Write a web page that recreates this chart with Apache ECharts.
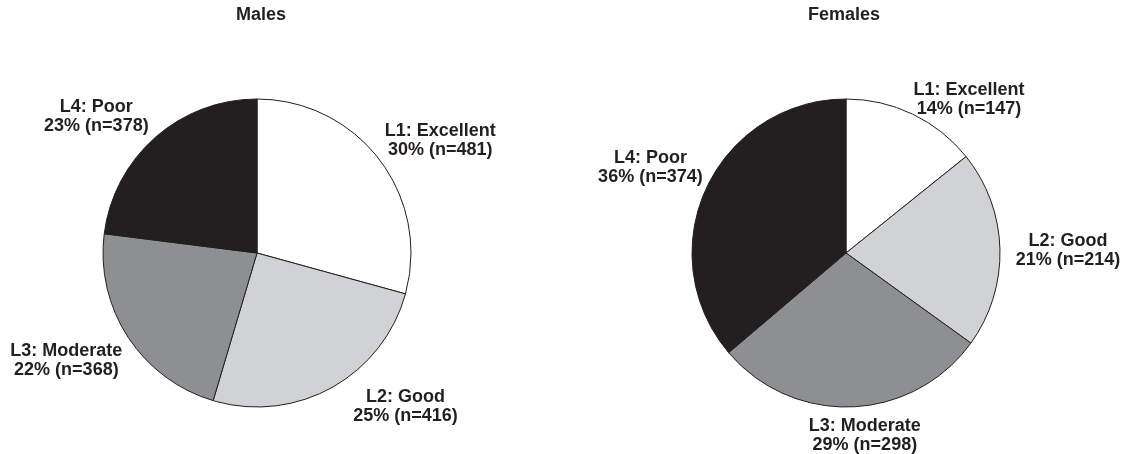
<!DOCTYPE html>
<html>
<head>
<meta charset="utf-8">
<script src="https://cdn.jsdelivr.net/npm/echarts@6/dist/echarts.min.js"></script>
<style>
html,body{margin:0;padding:0;background:#fff;}
#chart{width:1125px;height:454px;}
</style>
</head>
<body>
<div id="chart"></div>
<script>
// ---- data ----
var categories = ['L1: Excellent', 'L2: Good', 'L3: Moderate', 'L4: Poor'];
var malesN = [481, 416, 368, 378];
var malesPct = [30, 25, 22, 23];
var femalesN = [147, 214, 298, 374];
var femalesPct = [14, 21, 29, 36];
var panelTitles = ['Males', 'Females'];

// ---- styling ----
var sliceColors = ['#ffffff', '#d1d2d4', '#8e8f91', '#231f20'];
var textColor = '#231f20';
var fontFamily = '"Liberation Sans", Arial, Helvetica, sans-serif';
var maleLabelShift = [[25, 8], [52, -20], [-24, -1], [-29, 13]];
var femaleLabelShift = [[37, 26], [23, 3], [11, -16], [-15, -2]];

function buildData(ns, pcts) {
  return categories.map(function (c, i) {
    return { name: c, value: ns[i], pct: pcts[i], itemStyle: { color: sliceColors[i] } };
  });
}

function pieSeries(ns, pcts, center, shifts) {
  return {
    type: 'pie',
    center: center,
    radius: 154,
    startAngle: 90,
    clockwise: true,
    avoidLabelOverlap: false,
    silent: true,
    animation: false,
    itemStyle: { borderColor: '#231f20', borderWidth: 1 },
    label: {
      show: true,
      position: 'outside',
      distanceToLabelLine: 0,
      color: textColor,
      fontFamily: fontFamily,
      fontWeight: 'bold',
      fontSize: 18,
      lineHeight: 19,
      align: 'center',
      formatter: function (p) {
        return p.name + '\n' + p.data.pct + '% (n=' + p.value + ')';
      }
    },
    labelLine: { show: false, length: 45, length2: 0 },
    labelLayout: function (params) {
      var s = shifts[params.dataIndex];
      return { align: 'center', verticalAlign: 'middle', dx: s[0], dy: s[1] };
    },
    data: buildData(ns, pcts)
  };
}

var titleStyle = { fontFamily: fontFamily, fontWeight: 'bold', fontSize: 18, color: textColor };

var chart = echarts.init(document.getElementById('chart'), null, { renderer: 'canvas' });
chart.setOption({
  backgroundColor: '#ffffff',
  animation: false,
  title: [
    { text: panelTitles[0], left: 261, top: 6, padding: 0, textAlign: 'center', textStyle: titleStyle },
    { text: panelTitles[1], left: 844, top: 6, padding: 0, textAlign: 'center', textStyle: titleStyle }
  ],
  series: [
    pieSeries(malesN, malesPct, [257, 253], maleLabelShift),
    pieSeries(femalesN, femalesPct, [846, 253], femaleLabelShift)
  ]
});
</script>
</body>
</html>
